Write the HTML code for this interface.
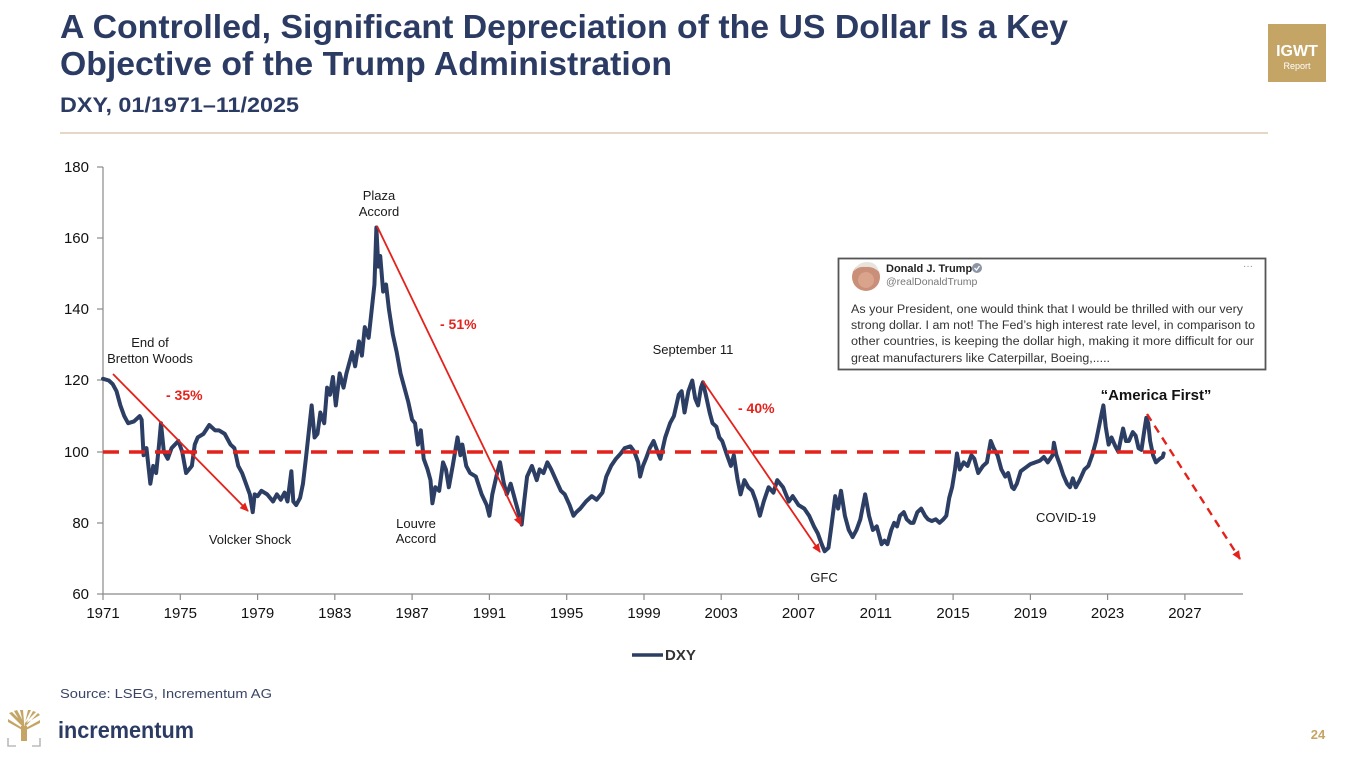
<!DOCTYPE html>
<html><head><meta charset="utf-8"><style>
html,body{margin:0;padding:0;background:#fff;}
svg{display:block;font-family:"Liberation Sans",Arial,sans-serif;}
</style></head><body>
<svg width="1352" height="758" viewBox="0 0 1352 758" xmlns="http://www.w3.org/2000/svg">
<defs>
<marker id="ah" markerWidth="10" markerHeight="10" refX="8" refY="5" orient="auto" markerUnits="userSpaceOnUse">
<path d="M0,1 L9,5 L0,9 Z" fill="#e4221b"/>
</marker>
</defs>
<rect width="1352" height="758" fill="#fff"/>
<!-- Title -->
<text x="60" y="38" font-size="33" font-weight="bold" fill="#2b3b63" textLength="1008" lengthAdjust="spacingAndGlyphs">A Controlled, Significant Depreciation of the US Dollar Is a Key</text>
<text x="60" y="75" font-size="33" font-weight="bold" fill="#2b3b63" textLength="612" lengthAdjust="spacingAndGlyphs">Objective of the Trump Administration</text>
<text x="60" y="112" font-size="21" font-weight="bold" fill="#2b3b63" textLength="239" lengthAdjust="spacingAndGlyphs">DXY, 01/1971–11/2025</text>
<line x1="60" y1="133" x2="1268" y2="133" stroke="#dccbb0" stroke-width="1.5"/>
<!-- IGWT box -->
<rect x="1268" y="24" width="58" height="58" fill="#c5a566"/>
<text x="1297" y="56" font-size="16" font-weight="bold" fill="#fff" text-anchor="middle">IGWT</text>
<text x="1297" y="69" font-size="9" fill="#fff" text-anchor="middle">Report</text>

<!-- Axes -->
<g stroke="#8a8a8a" stroke-width="1.2">
<line x1="103" y1="167" x2="103" y2="594"/>
<line x1="103" y1="594" x2="1243" y2="594"/>
<line x1="97" y1="167" x2="103" y2="167"/>
<line x1="97" y1="238" x2="103" y2="238"/>
<line x1="97" y1="309" x2="103" y2="309"/>
<line x1="97" y1="380" x2="103" y2="380"/>
<line x1="97" y1="452" x2="103" y2="452"/>
<line x1="97" y1="523" x2="103" y2="523"/>
<line x1="97" y1="594" x2="103" y2="594"/>
<line x1="103" y1="594" x2="103" y2="600"/>
<line x1="180.3" y1="594" x2="180.3" y2="600"/>
<line x1="257.6" y1="594" x2="257.6" y2="600"/>
<line x1="334.8" y1="594" x2="334.8" y2="600"/>
<line x1="412.1" y1="594" x2="412.1" y2="600"/>
<line x1="489.4" y1="594" x2="489.4" y2="600"/>
<line x1="566.7" y1="594" x2="566.7" y2="600"/>
<line x1="644" y1="594" x2="644" y2="600"/>
<line x1="721.2" y1="594" x2="721.2" y2="600"/>
<line x1="798.5" y1="594" x2="798.5" y2="600"/>
<line x1="875.8" y1="594" x2="875.8" y2="600"/>
<line x1="953.1" y1="594" x2="953.1" y2="600"/>
<line x1="1030.4" y1="594" x2="1030.4" y2="600"/>
<line x1="1107.6" y1="594" x2="1107.6" y2="600"/>
<line x1="1184.9" y1="594" x2="1184.9" y2="600"/>
</g>
<g font-size="15" fill="#111" text-anchor="end">
<text x="89" y="172">180</text>
<text x="89" y="243">160</text>
<text x="89" y="314">140</text>
<text x="89" y="385">120</text>
<text x="89" y="457">100</text>
<text x="89" y="528">80</text>
<text x="89" y="599">60</text>
</g>
<g font-size="15" fill="#111" text-anchor="middle">
<text x="103" y="618">1971</text>
<text x="180.3" y="618">1975</text>
<text x="257.6" y="618">1979</text>
<text x="334.8" y="618">1983</text>
<text x="412.1" y="618">1987</text>
<text x="489.4" y="618">1991</text>
<text x="566.7" y="618">1995</text>
<text x="644" y="618">1999</text>
<text x="721.2" y="618">2003</text>
<text x="798.5" y="618">2007</text>
<text x="875.8" y="618">2011</text>
<text x="953.1" y="618">2015</text>
<text x="1030.4" y="618">2019</text>
<text x="1107.6" y="618">2023</text>
<text x="1184.9" y="618">2027</text>
</g>

<!-- DXY series -->
<g transform="translate(103,594) scale(19.32,-3.558) translate(-1971,-60)">
<polyline fill="none" stroke="#2c3e64" stroke-width="4" vector-effect="non-scaling-stroke" stroke-linejoin="round" stroke-linecap="round" points="
1971.0,120.5 1971.3,120 1971.5,119 1971.7,117 1971.9,113 1972.1,110 1972.3,108 1972.6,108.5 1972.9,110 1973.0,109 1973.1,99 1973.25,101 1973.45,91 1973.6,96 1973.75,94 1973.9,102 1974.0,108 1974.15,100 1974.35,98 1974.55,101 1974.9,103 1975.1,100 1975.3,94 1975.45,95 1975.6,96 1975.75,102 1975.9,104 1976.2,105 1976.5,107.5 1976.8,106 1977.0,106 1977.3,105 1977.6,102 1977.8,101 1978.0,96 1978.2,94 1978.4,91 1978.6,88 1978.75,83 1978.85,88 1979.0,87.5 1979.2,89 1979.5,88 1979.8,86 1980.0,88 1980.2,86.5 1980.4,88.5 1980.55,86 1980.75,94.5 1980.85,86 1981.0,85 1981.2,87 1981.35,91 1981.5,98 1981.7,108 1981.8,113 1981.95,104 1982.1,105 1982.25,111 1982.45,108 1982.6,118 1982.75,116 1982.9,121 1983.05,113 1983.25,122 1983.45,118 1983.6,122 1983.75,125 1983.9,128 1984.05,124 1984.25,131 1984.4,127 1984.55,135 1984.75,132 1984.95,142 1985.05,147 1985.15,163 1985.25,152 1985.35,155 1985.5,145 1985.65,147 1985.8,140 1986.0,133 1986.2,128 1986.4,122 1986.6,118 1986.8,114 1987.0,109 1987.15,108 1987.3,102 1987.45,106 1987.6,98 1987.8,95 1987.95,92 1988.05,85.5 1988.2,90 1988.4,89 1988.6,97 1988.75,95 1988.9,90 1989.1,96 1989.35,104 1989.5,99 1989.6,102 1989.8,96 1990.0,94 1990.3,93 1990.6,88 1990.86,85 1991.0,82 1991.15,88 1991.4,94 1991.55,97 1991.75,91 1991.9,88 1992.1,91 1992.3,87 1992.5,83 1992.67,79.5 1992.8,86 1992.95,93 1993.2,96 1993.45,92 1993.6,95 1993.8,94 1994.0,97 1994.2,95 1994.45,92 1994.7,89 1994.9,88 1995.15,85 1995.35,82 1995.5,83 1995.7,84 1996.0,86 1996.3,87.5 1996.55,86.5 1996.85,88.5 1997.05,93 1997.3,96 1997.55,98 1997.8,99.5 1998.0,101 1998.3,101.5 1998.5,100 1998.7,97 1998.8,93 1998.95,96 1999.1,98 1999.3,101 1999.5,103 1999.7,100 1999.85,98 2000.1,104 2000.35,108 2000.55,110 2000.8,116 2000.95,117 2001.1,111 2001.3,117 2001.5,120 2001.65,115 2001.8,113 2001.95,118 2002.05,119.5 2002.2,116 2002.4,111 2002.55,108 2002.75,107 2002.9,104 2003.05,103 2003.3,99 2003.5,96 2003.65,99 2003.85,92 2004.0,88 2004.2,92 2004.4,90 2004.6,89 2004.8,86 2005.0,82 2005.2,86 2005.45,90 2005.7,88.5 2005.9,92 2006.2,90 2006.5,86 2006.7,87.5 2007.0,85 2007.3,84 2007.55,82 2007.8,79 2008.0,77 2008.2,74 2008.35,72 2008.55,73 2008.7,79 2008.9,87.5 2009.05,84 2009.2,89 2009.4,82 2009.6,78 2009.8,76 2010.0,78 2010.2,81 2010.45,88 2010.65,82 2010.85,78 2011.05,79 2011.3,74 2011.45,75 2011.6,74 2011.8,78 2011.95,80 2012.1,79 2012.25,82 2012.45,83 2012.6,81 2012.8,80 2012.95,80 2013.15,83 2013.35,84 2013.55,82 2013.7,81 2013.9,80.5 2014.1,81 2014.3,80 2014.5,81 2014.65,82 2014.8,87 2014.95,90 2015.1,95 2015.2,99.5 2015.35,95 2015.55,97 2015.75,96 2015.95,99 2016.1,98 2016.3,94 2016.55,96 2016.75,97 2016.95,103 2017.1,101 2017.3,99 2017.5,95 2017.7,93 2017.85,94 2018.05,90 2018.15,89.5 2018.3,91 2018.5,94.5 2018.75,95.5 2019.0,96.5 2019.25,97 2019.5,97.5 2019.7,98.5 2019.9,97 2020.15,99 2020.22,102.5 2020.35,99 2020.55,96 2020.7,93.5 2020.9,91 2021.05,90 2021.2,92.5 2021.35,90 2021.55,92 2021.8,95 2022.0,96 2022.2,99 2022.4,103 2022.55,107 2022.7,111 2022.78,113 2022.9,107 2023.05,102 2023.2,104 2023.4,101.5 2023.55,100 2023.7,104 2023.8,106.5 2023.95,103 2024.1,103 2024.3,105.5 2024.45,104.5 2024.6,101 2024.75,100.5 2024.9,106 2025.0,109.5 2025.1,108 2025.2,103 2025.35,99 2025.5,97 2025.7,98 2025.85,98.5 2025.9,99.5"/>
</g>

<!-- 100 dashed line -->
<line x1="103" y1="452" x2="1156" y2="452" stroke="#e4221b" stroke-width="3.5" stroke-dasharray="16,10"/>

<!-- Red arrows -->
<g stroke="#e4221b" stroke-width="1.8" fill="none">
<line x1="113" y1="374" x2="248" y2="511" marker-end="url(#ah)"/>
<line x1="377" y1="226" x2="521" y2="525" marker-end="url(#ah)"/>
<line x1="703" y1="381" x2="820" y2="552" marker-end="url(#ah)"/>
<line x1="1147" y1="414" x2="1240" y2="559" stroke-width="2.4" stroke-dasharray="8,6" marker-end="url(#ah)"/>
</g>

<!-- Annotations -->
<g font-size="13" fill="#1a1a1a" text-anchor="middle">
<text x="150" y="347">End of</text>
<text x="150" y="363">Bretton Woods</text>
<text x="250" y="544">Volcker Shock</text>
<text x="379" y="200">Plaza</text>
<text x="379" y="216">Accord</text>
<text x="416" y="528">Louvre</text>
<text x="416" y="543">Accord</text>
<text x="693" y="354">September 11</text>
<text x="824" y="582">GFC</text>
<text x="1066" y="522">COVID-19</text>
</g>
<g font-size="14" font-weight="bold" fill="#e4221b">
<text x="166" y="400">- 35%</text>
<text x="440" y="329">- 51%</text>
<text x="738" y="413">- 40%</text>
</g>
<text x="1156" y="400" font-size="15" font-weight="bold" fill="#111" text-anchor="middle">“America First”</text>

<!-- Tweet box -->
<rect x="838.5" y="258.5" width="427" height="111" fill="#fff" stroke="#555" stroke-width="1.8"/>
<circle cx="866" cy="277" r="14" fill="#c98f78"/>
<path d="M854,271 Q858,262 867,262 Q877,262 879,272 Q873,266 866,267 Q858,266 854,271Z" fill="#e8e3dc"/>
<circle cx="866" cy="280" r="8" fill="#d9a38c"/>
<text x="886" y="272" font-size="11" font-weight="bold" fill="#222">Donald J. Trump</text>
<circle cx="977" cy="268" r="5" fill="#8a95a5"/>
<path d="M974.5,268 L976.5,270 L979.5,266" stroke="#fff" stroke-width="1.3" fill="none"/>
<text x="886" y="285" font-size="10.5" fill="#777">@realDonaldTrump</text>
<text x="1248" y="269" font-size="10" fill="#888" text-anchor="middle">···</text>
<g font-size="11.5" fill="#333">
<text x="851" y="313" textLength="392" lengthAdjust="spacingAndGlyphs">As your President, one would think that I would be thrilled with our very</text>
<text x="851" y="329" textLength="404" lengthAdjust="spacingAndGlyphs">strong dollar. I am not! The Fed’s high interest rate level, in comparison to</text>
<text x="851" y="345" textLength="403" lengthAdjust="spacingAndGlyphs">other countries, is keeping the dollar high, making it more difficult for our</text>
<text x="851" y="362" textLength="259" lengthAdjust="spacingAndGlyphs">great manufacturers like Caterpillar, Boeing,.....</text>
</g>

<!-- Legend -->
<line x1="632" y1="655" x2="663" y2="655" stroke="#2c3e64" stroke-width="3.5"/>
<text x="665" y="660" font-size="15" font-weight="bold" fill="#333">DXY</text>

<!-- Footer -->
<text x="60" y="698" font-size="13" fill="#3a4466" textLength="212" lengthAdjust="spacingAndGlyphs">Source: LSEG, Incrementum AG</text>
<g>
<rect x="21" y="726" width="6" height="15" fill="#c5a566"/>
<path d="M24,728 L9,713 L12,712 L24,724 Z M24,728 L14,711 L17,710 L24,723 Z M24,727 L20,710 L23,710 L24,722Z M24,727 L28,710 L31,710 L25,722Z M24,728 L33,711 L36,712 L25,723Z M24,728 L38,713 L40,715 L25,724Z M24,729 L8,719 L8,722 L24,731Z M24,729 L40,720 L40,723 L24,731Z" fill="#c5a566"/>
<path d="M8,738 V746 H16 M40,738 V746 H32" stroke="#bbb" stroke-width="1.6" fill="none"/>
</g>
<text x="58" y="738" font-size="23" font-weight="bold" fill="#2b3b63" textLength="136" lengthAdjust="spacingAndGlyphs">incrementum</text>
<text x="1318" y="739" font-size="13" font-weight="bold" fill="#c5a566" text-anchor="middle">24</text>
</svg>
</body></html>
